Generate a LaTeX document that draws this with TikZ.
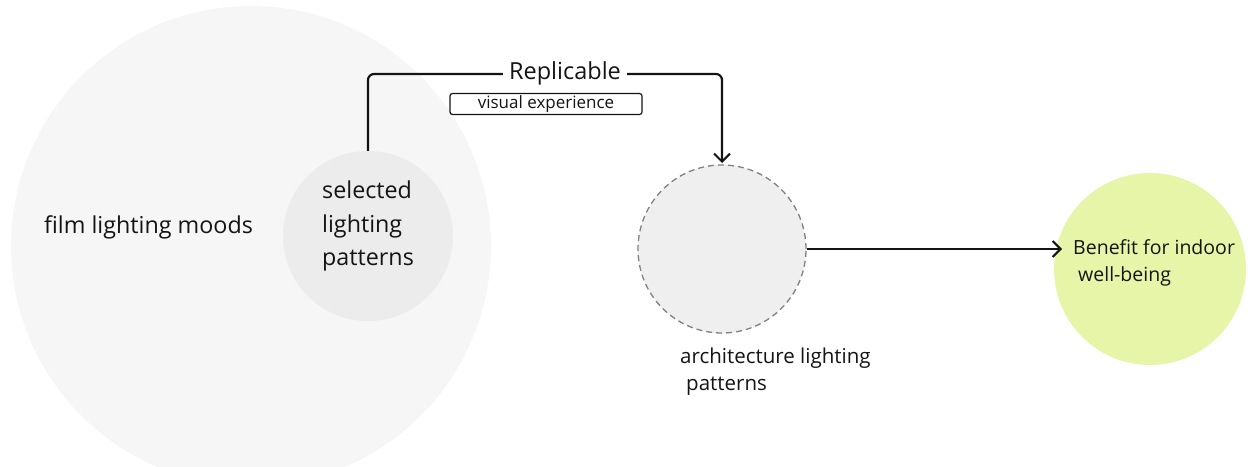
\documentclass[tikz,border=0pt]{standalone}
\usepackage{fontspec}
\setmainfont{Open Sans}
\usetikzlibrary{arrows.meta}
\definecolor{outerfill}{RGB}{246,246,246}
\definecolor{innerfill}{RGB}{236,236,236}
\definecolor{archfill}{RGB}{239,239,239}
\definecolor{dashgray}{RGB}{128,128,128}
\definecolor{benefitfill}{RGB}{230,245,168}
\definecolor{ink}{RGB}{20,20,20}
\tikzset{
  blob/.style={circle, draw=none, inner sep=0pt},
  flow/.style={draw=ink, line width=2.2pt, rounded corners=6pt,
    -{Straight Barb[length=8pt, width=16pt, line width=2pt]}},
  label/.style={text=ink, align=left, inner sep=0pt},
  tag/.style={draw=ink, line width=1.2pt, rounded corners=2.5pt, fill=white,
    text=ink, font=\fontsize{17}{19}\selectfont, minimum width=192pt,
    minimum height=21pt, inner sep=0pt}
}
\begin{document}
\begin{tikzpicture}[x=1pt, y=-1pt]
\useasboundingbox (0,0) rectangle (1248,466);
\begin{scope}
\clip (0,0) rectangle (1248,466);
% outer field of film moods
\node[blob, fill=outerfill, minimum size=480pt] (film) at (251,246) {};
\end{scope}
\node[label, font=\fontsize{23.3}{26}\selectfont, anchor=west] (filmtxt) at (44,227) {film lighting moods};
% selected subset
\node[blob, fill=innerfill, minimum size=170pt] (sel) at (368,236) {};
\node[label, font=\fontsize{23.3}{33.5}\selectfont, anchor=west] (seltxt) at (322,226)
  {selected\\lighting\\patterns};
% architecture patterns
\node[blob, fill=archfill, draw=dashgray, line width=1.3pt, dash pattern=on 6pt off 4pt,
  minimum size=168pt] (arch) at (722,249) {};
\node[label, font=\fontsize{20.5}{27}\selectfont, anchor=north west] (archtxt) at (680,348)
  {architecture lighting\\\hspace*{6pt}patterns};
% benefit
\node[blob, fill=benefitfill, minimum size=192pt] (ben) at (1150,269) {};
\node[label, font=\fontsize{19.5}{27}\selectfont, anchor=west] (bentxt) at (1073,263)
  {Benefit for indoor\\\hspace*{5pt}well-being};
% connectors
\coordinate (archtop) at (722,163);
\draw[flow] (sel.north) -- (368,74) -- (722,74) -- (archtop);
\node[text=ink, fill=white, inner xsep=6pt, inner ysep=1pt, font=\fontsize{23.5}{26}\selectfont] (repl) at (565,73) {Replicable};
\node[tag] (vis) at (546,104) {visual experience};
\coordinate (benleft) at (1062,249);
\draw[flow] (arch.east) -- (benleft);
\end{tikzpicture}
\end{document}
